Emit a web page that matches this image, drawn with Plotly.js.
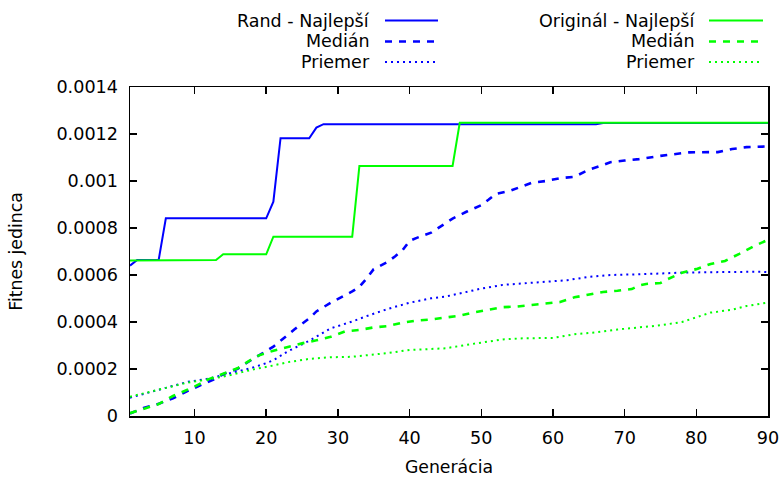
<!DOCTYPE html>
<html>
<head>
<meta charset="utf-8">
<script src="https://cdn.plot.ly/plotly-3.0.1.min.js"></script>
<style>html,body{margin:0;padding:0;background:#fff;}#chart{width:782px;height:477px;}</style>
</head>
<body>
<div id="chart"></div>
<script>
// Rand - Najlepší
const randBestX = [1, 2, 5, 6, 20, 21, 22, 26, 27, 28, 66, 67, 90];
const randBestY = [0.00064, 0.000664, 0.000664, 0.000841, 0.000841, 0.000912, 0.001182, 0.001182, 0.001227, 0.001242, 0.001242, 0.001247, 0.001247];
// Rand - Medián
const randMedX = [1, 3, 5, 7, 9, 11, 13, 14, 16, 18, 19, 21, 22, 24, 26, 27, 29, 31, 32, 33, 34, 35, 37, 38, 39, 40, 41, 43, 44, 45, 46, 48, 50, 51, 52, 54, 55, 57, 59, 61, 63, 65, 67, 68, 70, 72, 75, 77, 79, 83, 85, 87, 90];
const randMedY = [0.000011, 0.000035, 0.000052, 0.000075, 0.000106, 0.000134, 0.00016, 0.000178, 0.000201, 0.00024, 0.000258, 0.000295, 0.00032, 0.00037, 0.000415, 0.000445, 0.000482, 0.000512, 0.00053, 0.00055, 0.000585, 0.000625, 0.000657, 0.00068, 0.000705, 0.000745, 0.000758, 0.00078, 0.0008, 0.000822, 0.00084, 0.00087, 0.000897, 0.00092, 0.000945, 0.000958, 0.00097, 0.000992, 0.001, 0.001012, 0.001018, 0.001048, 0.001068, 0.00108, 0.001087, 0.001093, 0.001107, 0.001116, 0.001122, 0.001123, 0.001136, 0.001144, 0.001147];
// Rand - Priemer
const randAvgX = [1, 4, 7, 9, 12, 15, 18, 20, 21, 23, 26, 29, 32, 34, 37, 40, 43, 45, 48, 50, 53, 56, 59, 62, 65, 68, 72, 75, 78, 82, 85, 89, 90];
const randAvgY = [0.000078, 0.000103, 0.000127, 0.000145, 0.000159, 0.000182, 0.000205, 0.000225, 0.000237, 0.000275, 0.00032, 0.000373, 0.000402, 0.000425, 0.000456, 0.000482, 0.000501, 0.000508, 0.000528, 0.000542, 0.000558, 0.000565, 0.000571, 0.000578, 0.000592, 0.0006, 0.000603, 0.000607, 0.00061, 0.000612, 0.000614, 0.000614, 0.000612];
// Originál - Najlepší
const origBestX = [1, 13, 14, 20, 21, 32, 33, 46, 47, 90];
const origBestY = [0.000662, 0.000664, 0.000688, 0.000688, 0.000763, 0.000763, 0.001064, 0.001064, 0.001248, 0.001248];
// Originál - Medián
const origMedX = [1, 3, 5, 7, 8, 10, 12, 14, 16, 18, 19, 21, 23, 25, 27, 29, 31, 33, 35, 37, 39, 41, 43, 45, 47, 49, 51, 53, 55, 57, 59, 61, 63, 65, 67, 69, 71, 72, 73, 75, 76, 78, 80, 82, 84, 86, 88, 90];
const origMedY = [0.000012, 0.000033, 0.000051, 0.000085, 0.000098, 0.000125, 0.000157, 0.000179, 0.000203, 0.000242, 0.000258, 0.000278, 0.000294, 0.000309, 0.000322, 0.000337, 0.00036, 0.000366, 0.000377, 0.000383, 0.000397, 0.000406, 0.000411, 0.00042, 0.000427, 0.000441, 0.000452, 0.000463, 0.000466, 0.000473, 0.00048, 0.000485, 0.000505, 0.000516, 0.000528, 0.000533, 0.00054, 0.000555, 0.000562, 0.000566, 0.000582, 0.00061, 0.000625, 0.000647, 0.00066, 0.00069, 0.000722, 0.00075];
// Originál - Priemer
const origAvgX = [1, 4, 7, 9, 12, 15, 18, 21, 23, 26, 29, 32, 35, 37, 40, 43, 45, 48, 50, 53, 56, 60, 63, 66, 69, 73, 75, 78, 80, 82, 85, 87, 90];
const origAvgY = [0.000082, 0.000103, 0.000127, 0.000142, 0.000156, 0.000174, 0.000197, 0.000215, 0.000229, 0.000243, 0.00025, 0.000252, 0.000261, 0.000268, 0.000281, 0.000284, 0.000288, 0.000303, 0.000311, 0.000326, 0.000331, 0.000332, 0.000348, 0.000356, 0.000368, 0.00038, 0.000386, 0.0004, 0.00042, 0.00044, 0.000452, 0.000468, 0.000483];

const xTickVals = [10, 20, 30, 40, 50, 60, 70, 80, 90];
const yTickVals = [0, 0.0002, 0.0004, 0.0006, 0.0008, 0.001, 0.0012, 0.0014];
const yTickText = ['0', '0.0002', '0.0004', '0.0006', '0.0008', '0.001', '0.0012', '0.0014'];

const BLUE = '#0000ff', GREEN = '#00ff00';
const FONT = 'DejaVu Sans';
const DASH = '7px,7px', DOT = '2px,4px';

const seriesDefs = [
  {name: 'Rand - Najlepší', x: randBestX, y: randBestY, color: BLUE, dash: 'solid', w: 2},
  {name: 'Medián', x: randMedX, y: randMedY, color: BLUE, dash: DASH, w: 2.6},
  {name: 'Priemer', x: randAvgX, y: randAvgY, color: BLUE, dash: DOT, w: 2},
  {name: 'Originál - Najlepší', x: origBestX, y: origBestY, color: GREEN, dash: 'solid', w: 2},
  {name: 'Medián', x: origMedX, y: origMedY, color: GREEN, dash: DASH, w: 2.6},
  {name: 'Priemer', x: origAvgX, y: origAvgY, color: GREEN, dash: DOT, w: 2}
];

const traces = seriesDefs.map(s => ({
  type: 'scatter', mode: 'lines', x: s.x, y: s.y, name: s.name,
  line: {color: s.color, dash: s.dash, width: s.w}, showlegend: false, hoverinfo: 'skip'
}));

// Manual gnuplot-style key: text right-aligned, sample to its right
const L = 130, R = 768, T = 87, B = 416;
const px = v => (v - L) / (R - L);
const py = v => (B - v) / (B - T);
const rowsY = [20.5, 41.5, 62];
const cols = [
  {textRight: 371.5, lineL: 385, lineR: 438},
  {textRight: 697, lineL: 709, lineR: 763}
];
const annotations = [];
const shapes = [];
seriesDefs.forEach((s, i) => {
  const c = cols[Math.floor(i / 3)];
  const r = rowsY[i % 3];
  annotations.push({
    text: s.name, xref: 'paper', yref: 'paper', x: px(c.textRight), y: py(r),
    xanchor: 'right', yanchor: 'middle', showarrow: false,
    font: {family: FONT, size: 17.5, color: '#000'}
  });
  shapes.push({
    type: 'line', xref: 'paper', yref: 'paper', x0: px(c.lineL), x1: px(c.lineR), y0: py(r), y1: py(r),
    line: {color: s.color, dash: s.dash, width: s.w}
  });
});

const axisCommon = {
  showline: true, linecolor: '#000', linewidth: 1.5, mirror: 'ticks',
  ticks: 'inside', ticklen: 7, tickwidth: 1.5, tickcolor: '#000',
  showgrid: false, zeroline: false,
  tickfont: {family: FONT, size: 17.6, color: '#000'}
};

const layout = {
  width: 782, height: 477,
  margin: {l: L, r: 782 - R, t: T, b: 477 - B, pad: 0},
  paper_bgcolor: '#fff', plot_bgcolor: '#fff',
  showlegend: false,
  xaxis: Object.assign({}, axisCommon, {
    range: [1, 90], tickmode: 'array', tickvals: xTickVals,
    ticktext: xTickVals.map(String), ticklabelstandoff: 5,
    title: {text: 'Generácia', font: {family: FONT, size: 17.3, color: '#000'}, standoff: 14}
  }),
  yaxis: Object.assign({}, axisCommon, {
    range: [0, 0.0014], tickmode: 'array', tickvals: yTickVals, ticktext: yTickText,
    ticklabelstandoff: 7,
    title: {text: 'Fitnes jedinca', font: {family: FONT, size: 17.3, color: '#000'}, standoff: 29}
  }),
  annotations: annotations,
  shapes: shapes
};

Plotly.newPlot('chart', traces, layout, {staticPlot: true, displayModeBar: false});
</script>
</body>
</html>
